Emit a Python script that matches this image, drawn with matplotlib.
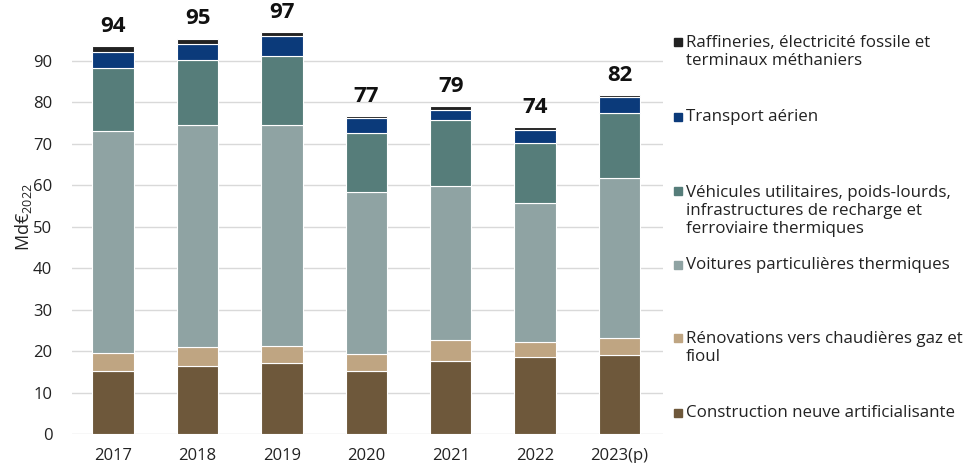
import matplotlib.pyplot as plt
import numpy as np

plt.rcParams['font.family'] = ['Open Sans', 'DejaVu Sans']
plt.rcParams['mathtext.fontset'] = 'custom'
plt.rcParams['mathtext.rm'] = 'Open Sans'

years = ['2017', '2018', '2019', '2020', '2021', '2022', '2023(p)']

# Md€2022, bottom to top of each stack
construction = [15.3, 16.3, 17.1, 15.1, 17.6, 18.5, 19.1]
renovations = [4.3, 4.6, 4.2, 4.1, 5.1, 3.8, 4.1]
voitures = [53.6, 53.6, 53.2, 39.3, 37.2, 33.5, 38.5]
vehicules = [15.2, 15.8, 16.8, 14.2, 15.8, 14.3, 15.8]
aerien = [3.8, 3.8, 4.8, 3.5, 2.5, 3.2, 3.7]
raffineries = [1.4, 1.3, 0.8, 0.5, 1.0, 0.8, 0.6]

series = [
    (construction, '#6E583B', 'Construction neuve artificialisante'),
    (renovations, '#BFA582', 'Rénovations vers chaudières gaz et\nfioul'),
    (voitures, '#8FA3A3', 'Voitures particulières thermiques'),
    (vehicules, '#567D7A', 'Véhicules utilitaires, poids-lourds,\ninfrastructures de recharge et\nferroviaire thermiques'),
    (aerien, '#0B3A7A', 'Transport aérien'),
    (raffineries, '#222222', 'Raffineries, électricité fossile et\nterminaux méthaniers'),
]

fig = plt.figure(figsize=(9.7, 4.63), dpi=100)
ax = fig.add_axes([0.074, 0.0626, 0.609, 0.9374])

x = np.arange(len(years))
bottom = np.zeros(len(years))
for vals, col, lab in series:
    ax.bar(x, vals, 0.49, bottom=bottom, color=col, edgecolor='white', linewidth=0.8, zorder=3)
    bottom += np.array(vals)

for xi, tot in zip(x, bottom):
    ax.text(xi, tot + 2.2, f'{round(tot):d}', ha='center', va='bottom',
            fontsize=16, fontweight='bold', color='#111111')

ax.set_xlim(-0.49, 6.51)
ax.set_ylim(0, 104.7)
ax.set_yticks(range(0, 100, 10))
ax.set_xticks(x)
ax.set_xticklabels(years)
ax.tick_params(length=0, labelsize=12, colors='#222222')
ax.tick_params(axis='x', pad=10)
ax.tick_params(axis='y', pad=14)
ax.grid(axis='y', color='#D9D9D9', linewidth=1, zorder=0)
for s in ax.spines.values():
    s.set_visible(False)
ax.set_ylabel(r'Md€$_{\mathrm{2022}}$', fontsize=13, color='#222222', labelpad=-1)

# legend on the right, drawn entry by entry
leg_y = [413, 348, 265, 211, 117, 52]
for (vals, col, lab), py in zip(series, leg_y):
    nlines = lab.count('\n') + 1
    ytop = py - (nlines - 1) * 10
    fig.patches.append(plt.Rectangle((674 / 970, 1 - (ytop + 4) / 463), 8 / 970, 8 / 463,
                                     transform=fig.transFigure, color=col))
    fig.text(686 / 970, 1 - py / 463, lab, ha='left', va='center', fontsize=12.2,
             color='#222222', linespacing=1.17)

fig.savefig('out.png', dpi=100)
